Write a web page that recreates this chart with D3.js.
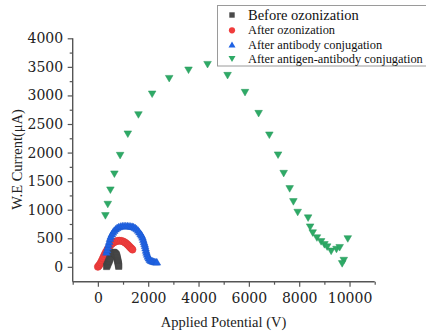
<!DOCTYPE html>
<html>
<head>
<meta charset="utf-8">
<script src="https://cdn.jsdelivr.net/npm/d3@7"></script>
<style>
  html, body { margin: 0; padding: 0; background: #fff; }
  svg { display: block; }
</style>
</head>
<body>
<svg id="chart" width="426" height="336"></svg>
<script>
// ---- data: applied potential (V) vs working-electrode current (µA) ----
const seriesNames = [
  "Before ozonization",
  "After ozonization",
  "After antibody conjugation",
  "After antigen-antibody conjugation"
];

const beforeOzonizationV = [346, 365, 385, 405, 425, 446, 466, 486, 505, 522, 540, 560, 582, 605, 628, 650, 672, 692, 712, 731, 748, 762, 775, 787, 797, 806, 815, 823, 830];
const beforeOzonizationI = [5, 25, 45, 67, 88, 108, 130, 152, 175, 198, 218, 235, 248, 254, 252, 245, 237, 228, 220, 210, 190, 165, 140, 115, 95, 72, 50, 28, 8];

const afterOzonizationV = [0, 40, 80, 120, 160, 200, 240, 280, 325, 375, 430, 490, 555, 625, 700, 775, 850, 925, 1000, 1065, 1125, 1180, 1230, 1280, 1330, 1375];
const afterOzonizationI = [0, 20, 45, 75, 110, 148, 188, 225, 262, 300, 338, 372, 402, 426, 443, 454, 458, 455, 445, 430, 412, 390, 368, 344, 322, 302];

const antibodyV = [340, 365, 392, 420, 450, 480, 515, 555, 600, 650, 705, 765, 830, 900, 970, 1040, 1110, 1180, 1240, 1300, 1360, 1420, 1480, 1540, 1600, 1650, 1700, 1740, 1775, 1805, 1830, 1855, 1875, 1895, 1915, 1935, 1960, 1990, 2025, 2065, 2110, 2160, 2210, 2260, 2310, 2345];
const antibodyI = [262, 305, 352, 400, 450, 500, 542, 580, 612, 642, 668, 690, 706, 716, 722, 724, 724, 722, 719, 716, 712, 704, 690, 670, 645, 615, 585, 560, 525, 485, 445, 410, 375, 335, 295, 260, 225, 190, 160, 135, 118, 108, 100, 94, 90, 88];

const antigenAntibodyV = [299, 394, 498, 657, 884, 1190, 1612, 2157, 2834, 3602, 4358, 5154, 5847, 6388, 6814, 7160, 7383, 7622, 7769, 7940, 8354, 8434, 8537, 8704, 8871, 9003, 9111, 9270, 9481, 9608, 9930, 9771, 9707];
const antigenAntibodyI = [892, 1090, 1341, 1621, 1947, 2321, 2658, 3020, 3293, 3440, 3538, 3346, 3049, 2681, 2303, 1954, 1632, 1364, 1137, 950, 852, 694, 591, 504, 437, 385, 345, 271, 303, 334, 488, 110, 52];

const xMajorTicks = [0, 2000, 4000, 6000, 8000, 10000];
const xMinorTicks = [-1000, 1000, 3000, 5000, 7000, 9000, 11000];
const yMajorTicks = [0, 500, 1000, 1500, 2000, 2500, 3000, 3500, 4000];
const yMinorTicks = [250, 750, 1250, 1750, 2250, 2750, 3250, 3750];

const xAxisTitle = "Applied Potential (V)";
const yAxisTitle = "W.E Current(\u03bcA)";

// ---- layout ----
const svg = d3.select("#chart");
const plotLeft = 72.7, plotRight = 374.7, plotTop = 38.3, plotBottom = 281.7;

const x = d3.scaleLinear().domain([-1000, 11000]).range([plotLeft, plotRight]);
const y = d3.scaleLinear().domain([-260, 4000]).range([plotBottom, plotTop]);

const axisColor = "#555";
const tickFont = "'DejaVu Serif', serif";
const textFont = "'Liberation Serif', 'Times New Roman', serif";

// ---- marker shapes ----
const triUp = (w, h) => `M0,${-h / 2}L${w / 2},${h / 2}L${-w / 2},${h / 2}Z`;
const triDown = (w, h) => `M0,${h / 2}L${w / 2},${-h / 2}L${-w / 2},${-h / 2}Z`;
const square = s => `M${-s / 2},${-s / 2}h${s}v${s}h${-s}Z`;
const circle = r => `M${r},0A${r},${r} 0 1,1 ${-r},0A${r},${r} 0 1,1 ${r},0Z`;

const series = [
  { name: seriesNames[1], xs: afterOzonizationV, ys: afterOzonizationI, color: "#f03c3c", shape: circle(3.6), legendShape: circle(3.1) },
  { name: seriesNames[0], xs: beforeOzonizationV, ys: beforeOzonizationI, color: "#4a4a4a", shape: square(6.2), legendShape: square(5.4) },
  { name: seriesNames[2], xs: antibodyV, ys: antibodyI, color: "#1f62e4", shape: triUp(7.6, 6.6), legendShape: triUp(7, 6) },
  { name: seriesNames[3], xs: antigenAntibodyV, ys: antigenAntibodyI, color: "#2eaa66", shape: triDown(7.6, 6.6), legendShape: triDown(7, 6) }
];

// ---- axes ----
svg.append("g")
  .attr("class", "y-axis")
  .attr("transform", `translate(${plotLeft},0)`)
  .call(d3.axisLeft(y).tickValues(yMajorTicks).tickSize(5).tickPadding(4.5).tickFormat(d3.format("d")))
  .call(g => g.select(".domain").attr("d", `M0,${plotTop}V${plotBottom}`));
svg.append("g")
  .attr("transform", `translate(${plotLeft},0)`)
  .call(d3.axisLeft(y).tickValues(yMinorTicks).tickSize(3).tickFormat(""))
  .call(g => g.select(".domain").remove());

svg.append("g")
  .attr("class", "x-axis")
  .attr("transform", `translate(0,${plotBottom})`)
  .call(d3.axisBottom(x).tickValues(xMajorTicks).tickSize(5).tickPadding(6.4).tickFormat(d3.format("d")))
  .call(g => g.select(".domain").attr("d", `M${plotLeft},0H${plotRight}`));
svg.append("g")
  .attr("transform", `translate(0,${plotBottom})`)
  .call(d3.axisBottom(x).tickValues(xMinorTicks).tickSize(3).tickFormat(""))
  .call(g => g.select(".domain").remove());

svg.selectAll(".domain").attr("stroke", axisColor).attr("stroke-width", 1.4);
svg.selectAll(".tick line").attr("stroke", axisColor).attr("stroke-width", 1.2);
svg.selectAll(".tick text")
  .attr("fill", "#222")
  .style("font-family", tickFont)
  .style("font-size", "14px");

// ---- axis titles ----
svg.append("text")
  .attr("x", 223.5).attr("y", 326.5)
  .attr("text-anchor", "middle")
  .style("font-family", textFont).style("font-size", "14.5px").attr("fill", "#222")
  .text(xAxisTitle);

svg.append("text")
  .attr("transform", "translate(21.5,159.5) rotate(-90)")
  .attr("text-anchor", "middle")
  .style("font-family", textFont).style("font-size", "14.5px").attr("fill", "#222")
  .text(yAxisTitle);

// ---- scatter series ----
series.forEach(s => {
  const pts = s.xs.map((v, i) => [v, s.ys[i]]);
  svg.append("g").selectAll("path")
    .data(pts)
    .join("path")
    .attr("transform", d => `translate(${x(d[0])},${y(d[1])})`)
    .attr("d", s.shape)
    .attr("fill", s.color)
    .attr("stroke", d3.color(s.color).darker(0.3))
    .attr("stroke-width", 0.5);
});

// ---- legend ----
const legend = svg.append("g");
legend.append("rect")
  .attr("x", 217.5).attr("y", 5.5).attr("width", 220).attr("height", 60.5)
  .attr("fill", "#fff").attr("stroke", "#9a9a9a").attr("stroke-width", 1);

const legendOrder = [series[1], series[0], series[2], series[3]];
const legendRows = [15, 30.3, 44.5, 59];
const legendBaselines = [20, 34.3, 48.5, 62.8];
const legendSizes = ["14.5px", "12.4px", "12.4px", "12.4px"];
legendOrder.forEach((s, i) => {
  legend.append("path")
    .attr("transform", `translate(232,${legendRows[i]})`)
    .attr("d", s.legendShape)
    .attr("fill", s.color);
  legend.append("text")
    .attr("x", 248).attr("y", legendBaselines[i])
    .style("font-family", textFont).style("font-size", legendSizes[i]).attr("fill", "#111")
    .text(s.name);
});
</script>
</body>
</html>
